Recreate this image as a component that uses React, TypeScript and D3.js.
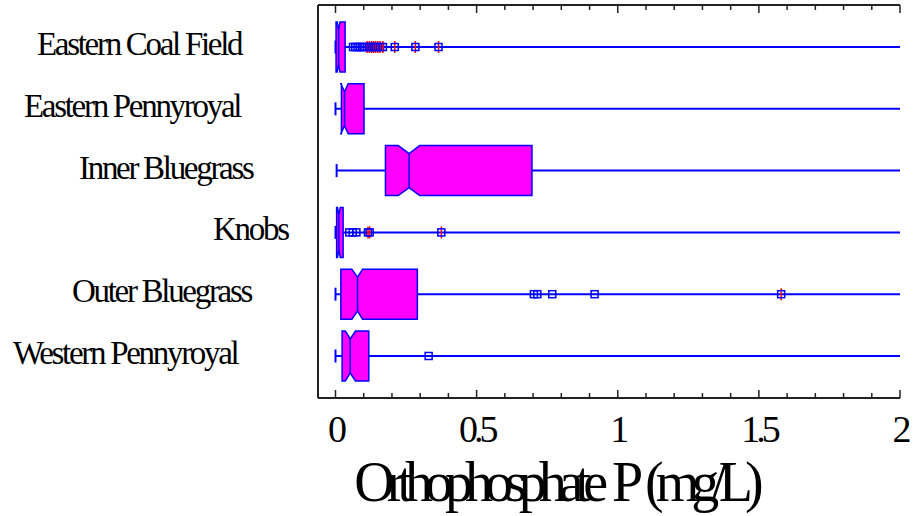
import React from "react";
import * as d3 from "d3";

const categories = [
  "Eastern Coal Field",
  "Eastern Pennyroyal",
  "Inner Bluegrass",
  "Knobs",
  "Outer Bluegrass",
  "Western Pennyroyal",
];
const whiskerLo = [0, 0, 0.004, 0, 0, 0];
const q1 = [0.002, 0.021, 0.177, 0.004, 0.019, 0.0235];
const notchLo = [0.006, 0.019, 0.222, 0.007, 0.058, 0.035];
const median = [0.011, 0.032, 0.261, 0.012, 0.078, 0.052];
const notchHi = [0.016, 0.045, 0.298, 0.017, 0.096, 0.071];
const q3 = [0.034, 0.101, 0.696, 0.027, 0.29, 0.118];
const whiskerHi = [2, 2, 2, 2, 2, 2];
const outside = [
  [0.062, 0.07, 0.078, 0.086, 0.094, 0.1],
  [],
  [],
  [0.049, 0.061, 0.074],
  [0.703, 0.715, 0.768, 0.918],
  [0.33],
];
const farOutside = [
  [0.112, 0.12, 0.128, 0.135, 0.142, 0.15, 0.158, 0.168, 0.21, 0.283, 0.365],
  [],
  [],
  [0.115, 0.121, 0.375],
  [1.579],
  [],
];
const xTicks = [0, 0.5, 1, 1.5, 2];
const xTickLabels = ["0", "0.5", "1", "1.5", "2"];
const xTitle = "Orthophosphate P (mg/L)";

// layout
const W = 914;
const H = 516;
const left = 318;
const right = 900;
const top = 5;
const bottom = 398;
const labelLeft = [37, 24, 79, 213, 72, 13];
const FONT = "'Liberation Serif', 'Times New Roman', serif";

export default function App() {
  const x = d3.scaleLinear().domain([0, 2]).range([335.5, 900]);
  const y = d3.scalePoint<string>().domain(categories).range([top, bottom]).padding(0.68);
  const half = 25;
  const indent = 8;
  const cap = 6.5;
  const sq = 3.5;
  const minorTicks = d3.range(0, 2.0001, 0.1);

  return (
    <svg width={W} height={H} style={{ position: "absolute", left: 0, top: 0, background: "#fff" }}>
      <defs>
        <clipPath id="plot">
          <rect x={left} y={top} width={right - left + 1} height={bottom - top} />
        </clipPath>
      </defs>
      <g clipPath="url(#plot)">
        {categories.map((c, i) => {
          const cy = y(c)!;
          const pts: [number, number][] = [
            [x(q1[i]), cy - half],
            [x(notchLo[i]), cy - half],
            [x(median[i]), cy - half + indent],
            [x(notchHi[i]), cy - half],
            [x(q3[i]), cy - half],
            [x(q3[i]), cy + half],
            [x(notchHi[i]), cy + half],
            [x(median[i]), cy + half - indent],
            [x(notchLo[i]), cy + half],
            [x(q1[i]), cy + half],
          ];
          return (
            <g key={c}>
              <line x1={x(whiskerLo[i])} x2={x(whiskerHi[i])} y1={cy} y2={cy} stroke="#0000ff" strokeWidth={2} />
              <line x1={x(whiskerLo[i])} x2={x(whiskerLo[i])} y1={cy - cap} y2={cy + cap} stroke="#0000ff" strokeWidth={2} />
              <polygon
                points={pts.map((p) => p.join(",")).join(" ")}
                fill="#ff00ff"
                stroke="#0000ff"
                strokeWidth={1.5}
                strokeLinejoin="miter"
              />
              <line
                x1={x(median[i])}
                x2={x(median[i])}
                y1={cy - half + indent}
                y2={cy + half - indent}
                stroke="#0000ff"
                strokeWidth={1.5}
              />
              {outside[i].map((v, k) => (
                <rect key={"o" + k} x={x(v) - sq} y={cy - sq} width={sq * 2} height={sq * 2} fill="none" stroke="#0000ff" strokeWidth={1.5} />
              ))}
              {farOutside[i].map((v, k) => (
                <g key={"f" + k}>
                  <line x1={x(v)} x2={x(v)} y1={cy - 6} y2={cy + 6} stroke="#ff0000" strokeWidth={1.5} />
                  <rect x={x(v) - sq} y={cy - sq} width={sq * 2} height={sq * 2} fill="none" stroke="#0000ff" strokeWidth={1.5} />
                </g>
              ))}
            </g>
          );
        })}
      </g>
      {/* frame */}
      <line x1={left} x2={right} y1={top} y2={top} stroke="#222" strokeWidth={2} />
      <line x1={left} x2={right} y1={bottom} y2={bottom} stroke="#222" strokeWidth={2} />
      <line x1={left} x2={left} y1={top} y2={bottom} stroke="#222" strokeWidth={2} />
      {minorTicks.map((t, k) => {
        const major = k % 5 === 0;
        const len = major ? 8 : 5;
        return (
          <g key={k}>
            <line x1={x(t)} x2={x(t)} y1={top} y2={top + len} stroke="#222" strokeWidth={1.5} />
            <line x1={x(t)} x2={x(t)} y1={bottom} y2={bottom - len} stroke="#222" strokeWidth={1.5} />
          </g>
        );
      })}
      {xTicks.map((t, k) => (
        <text
          key={k}
          x={x(t)}
          y={442}
          textAnchor="middle"
          fontFamily={FONT}
          fontSize={38}
          style={{ letterSpacing: "-4px" }}
          fill="#000"
        >
          {xTickLabels[k]}
        </text>
      ))}
      {categories.map((c, i) => (
        <text
          key={c}
          x={labelLeft[i]}
          y={y(c)! + 8}
          fontFamily={FONT}
          fontSize={33}
          style={{ letterSpacing: "-2.3px" }}
          fill="#000"
        >
          {c}
        </text>
      ))}
      <text
        x={555}
        y={501}
        textAnchor="middle"
        fontFamily={FONT}
        fontSize={56}
        style={{ letterSpacing: "-8px", wordSpacing: "6px" }}
        fill="#000"
      >
        {xTitle}
      </text>
    </svg>
  );
}
